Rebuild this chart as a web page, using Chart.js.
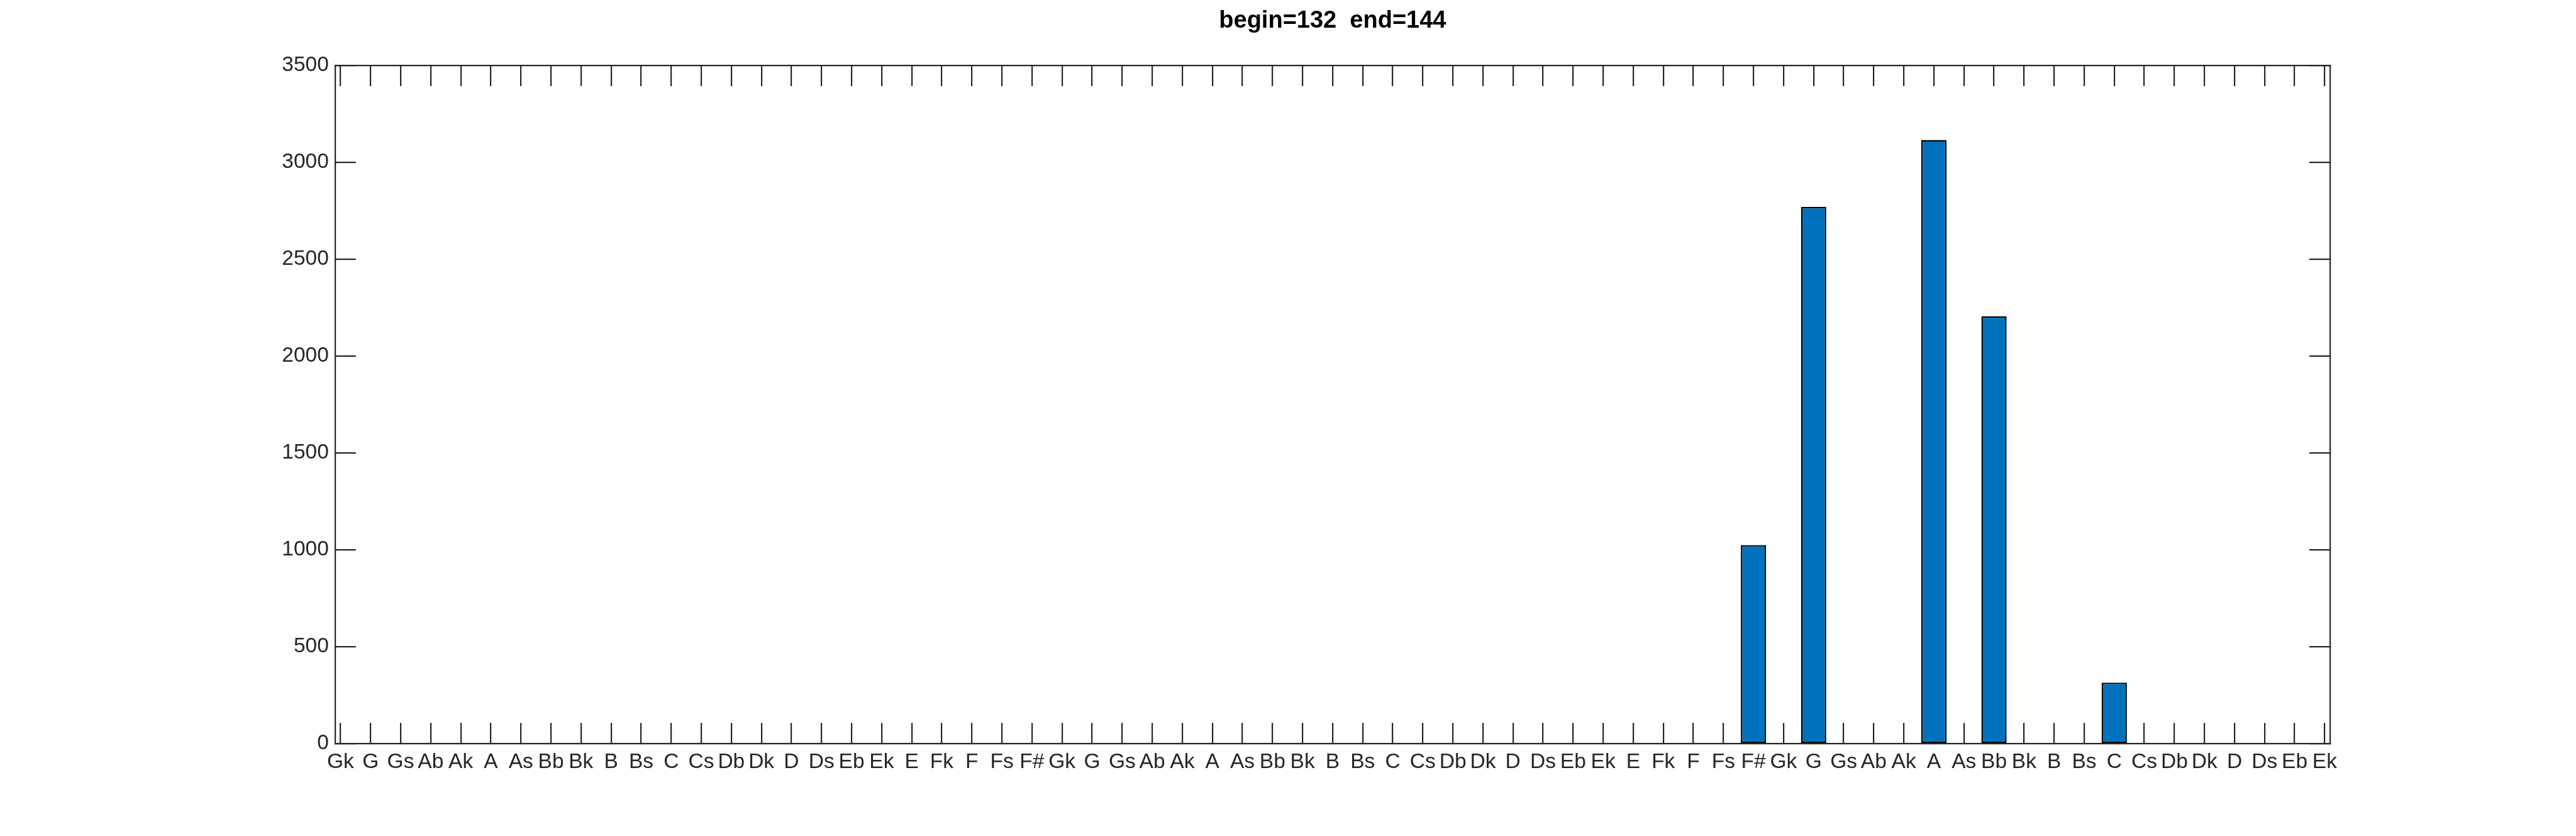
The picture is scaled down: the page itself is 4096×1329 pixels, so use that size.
<!DOCTYPE html>
<html>
<head>
<meta charset="utf-8">
<script src="https://cdn.jsdelivr.net/npm/chart.js@4.4.0/dist/chart.umd.min.js"></script>
<style>
  html, body { margin: 0; padding: 0; background: #fff; }
  canvas { display: block; }
</style>
</head>
<body>
<canvas id="chart" width="4096" height="1329"></canvas>
<script>
// data
const chartTitle = 'begin=132  end=144';
const noteLabels = [
    'Gk', 'G', 'Gs', 'Ab', 'Ak', 'A', 'As', 'Bb', 'Bk', 'B', 'Bs', 'C', 'Cs', 'Db', 'Dk', 'D', 'Ds', 'Eb', 'Ek', 'E', 'Fk', 'F', 'Fs', 'F#',
    'Gk', 'G', 'Gs', 'Ab', 'Ak', 'A', 'As', 'Bb', 'Bk', 'B', 'Bs', 'C', 'Cs', 'Db', 'Dk', 'D', 'Ds', 'Eb', 'Ek', 'E', 'Fk', 'F', 'Fs', 'F#',
    'Gk', 'G', 'Gs', 'Ab', 'Ak', 'A', 'As', 'Bb', 'Bk', 'B', 'Bs', 'C', 'Cs', 'Db', 'Dk', 'D', 'Ds', 'Eb', 'Ek'
];
const counts = [
    0, 0, 0, 0, 0, 0, 0, 0, 0, 0, 0, 0, 0, 0, 0, 0, 0, 0, 0, 0, 0, 0, 0, 0,
    0, 0, 0, 0, 0, 0, 0, 0, 0, 0, 0, 0, 0, 0, 0, 0, 0, 0, 0, 0, 0, 0, 0, 1025,
    0, 2770, 0, 0, 0, 3115, 0, 2205, 0, 0, 0, 315, 0, 0, 0, 0, 0, 0, 0
];
const xLimits = [0.82, 67.18];
const yLimits = [0, 3500];
const yStep = 500;

const axisColor = '#262626';
const fontFamily = "'Liberation Sans', Arial, Helvetica, sans-serif";
const tickFont = { family: fontFamily, size: 33.5 };
const tickLen = -33; // negative = ticks pointing inward

function gridOpts() {
    return {
        offset: false,
        drawOnChartArea: false,
        color: axisColor,
        lineWidth: 2.2,
        tickWidth: 2.2,
        tickLength: tickLen
    };
}

const points = counts.map((v, i) => ({ x: i + 1, y: v }));

const ctx = document.getElementById('chart').getContext('2d');
const chart = new Chart(ctx, {
    type: 'bar',
    data: {
        datasets: [{
            data: points,
            backgroundColor: '#0072BD',
            borderColor: '#000000',
            borderWidth: 2.4,
            borderSkipped: false,
            barPercentage: 0.84,
            categoryPercentage: 1.0
        }]
    },
    options: {
        responsive: false,
        animation: false,
        devicePixelRatio: 1,
        layout: { padding: 0 },
        plugins: {
            legend: { display: false },
            tooltip: { enabled: false },
            title: {
                display: true,
                text: chartTitle,
                fullSize: false,
                color: '#000000',
                font: { family: fontFamily, size: 38, weight: 'bold' },
                padding: { top: 10.3, bottom: 0 }
            }
        },
        scales: {
            x: {
                type: 'linear',
                position: 'bottom',
                min: xLimits[0],
                max: xLimits[1],
                offset: false,
                z: 1,
                grid: gridOpts(),
                border: { color: axisColor, width: 2.2 },
                ticks: {
                    stepSize: 1,
                    includeBounds: false,
                    autoSkip: false,
                    maxRotation: 0,
                    minRotation: 0,
                    padding: 42,
                    color: axisColor,
                    font: tickFont,
                    callback: v => noteLabels[v - 1] ?? ''
                },
                afterFit: s => { s.height = 146.8; }
            },
            x2: {
                type: 'linear',
                position: 'top',
                min: xLimits[0],
                max: xLimits[1],
                offset: false,
                z: 1,
                grid: gridOpts(),
                border: { color: axisColor, width: 2.2 },
                ticks: { display: false, stepSize: 1, includeBounds: false },
                afterFit: s => { s.height = 48; }
            },
            y: {
                type: 'linear',
                position: 'left',
                min: yLimits[0],
                max: yLimits[1],
                z: 1,
                grid: gridOpts(),
                border: { color: axisColor, width: 2.2 },
                ticks: {
                    stepSize: yStep,
                    padding: 43,
                    color: axisColor,
                    font: tickFont,
                    callback: v => String(v)
                },
                afterFit: s => { s.width = 532.8; }
            },
            y2: {
                type: 'linear',
                position: 'right',
                min: yLimits[0],
                max: yLimits[1],
                z: 1,
                grid: gridOpts(),
                border: { color: axisColor, width: 2.2 },
                ticks: { display: false, stepSize: yStep },
                afterFit: s => { s.width = 391; }
            }
        }
    }
});
</script>
</body>
</html>
